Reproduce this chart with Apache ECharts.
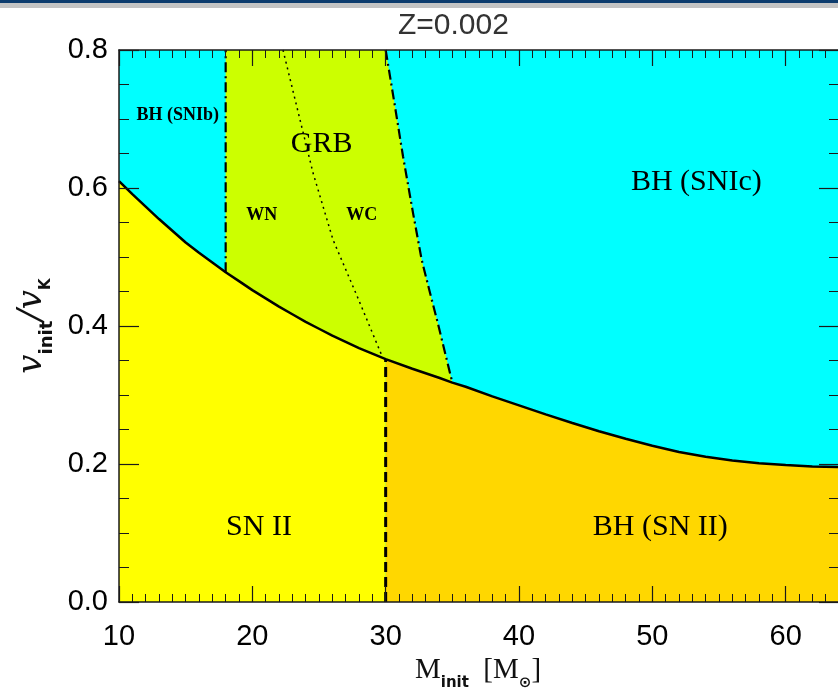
<!DOCTYPE html>
<html>
<head>
<meta charset="utf-8">
<title>Z=0.002</title>
<script src="https://cdn.jsdelivr.net/npm/echarts@6/dist/echarts.min.js"></script>
<style>
  html, body { margin: 0; padding: 0; background: #fff; }
  #chart { width: 838px; height: 692px; }
</style>
</head>
<body>
<div id="chart"></div>
<script>
// solid curve: lower limit of the BH formation region
const curveM = [10, 11, 12, 13, 14, 15, 16, 17, 18, 19, 20, 21, 22, 23, 24, 25, 26, 27, 28, 29, 30,
                32, 34, 35, 36, 38, 40, 42, 44, 46, 48, 50, 52, 54, 56, 58, 60, 62, 64]
const curveV = [0.610, 0.591, 0.573, 0.555, 0.538, 0.521, 0.506, 0.492, 0.478, 0.465, 0.452, 0.440, 0.428,
                0.417, 0.406, 0.396, 0.386, 0.377, 0.368, 0.360, 0.352,
                0.338, 0.325, 0.318, 0.312, 0.298, 0.285, 0.272, 0.2595, 0.2475, 0.2365, 0.2265, 0.2175,
                0.2105, 0.205, 0.201, 0.1985, 0.1965, 0.1955]

// dash-dot edge between GRB and BH (SNIc)
const grbEdgeM = [30.0, 30.7, 31.3, 32.05, 32.7, 33.3, 33.9, 35]
const grbEdgeV = [0.8, 0.718, 0.646, 0.564, 0.496, 0.45, 0.405, 0.318]

// dotted WN / WC edge
const wnwcM = [22.3, 23.7, 24.55, 26.05, 27.93, 29.8]
const wnwcV = [0.8, 0.689, 0.622, 0.525, 0.44, 0.353]

const snibLimit = 18   // dash-dot vertical
const bhLimit = 30     // dashed vertical

const labelNames = ['BH (SNIb)', 'GRB', 'WN', 'WC', 'BH (SNIc)', 'SN II', 'BH (SN II)']
const labelM = [14.4, 25.2, 20.7, 28.2, 53.3, 20.5, 50.6]
const labelV = [0.706, 0.663, 0.560, 0.560, 0.608, 0.109, 0.109]

const xTickLabels = [10, 20, 30, 40, 50, 60]
const yTickLabels = [0.0, 0.2, 0.4, 0.6, 0.8]

const smallLabels = new Set(['BH (SNIb)', 'WN', 'WC'])
const ink = '#1a1a1a'

const zip = (a, b) => a.map((v, i) => [v, b[i]])
const curvePts = zip(curveM, curveV)
const curveAt = m => curveV[curveM.indexOf(m)]

const yellowPoly = [[curveM[0], 0], ...curvePts.filter(p => p[0] <= bhLimit), [bhLimit, 0]]
const goldPoly = [[bhLimit, 0], ...curvePts.filter(p => p[0] >= bhLimit), [curveM[curveM.length - 1], 0]]
const grbPoly = [
  [snibLimit, 0.8],
  ...zip(grbEdgeM, grbEdgeV),
  ...curvePts.filter(p => p[0] >= snibLimit && p[0] <= grbEdgeM[grbEdgeM.length - 1]).reverse()
]

const region = (pts, color) => ({
  type: 'custom',
  silent: true,
  z: 1,
  data: pts,
  encode: { x: 0, y: 1 },
  renderItem: (params, api) => {
    if (params.dataIndex !== 0) return null
    return { type: 'polygon', shape: { points: pts.map(p => api.coord(p)) }, style: { fill: color } }
  }
})

const line = (pts, width, type) => ({
  type: 'line',
  silent: true,
  z: 3,
  symbol: 'none',
  data: pts,
  lineStyle: { color: '#000', width: width, type: type }
})

const xBase = {
  type: 'value',
  min: 10,
  max: 70,
  interval: 10,
  z: 10,
  axisLine: { show: true, onZero: false, lineStyle: { color: ink, width: 1.5 } },
  axisTick: { show: true, inside: true, length: 16, lineStyle: { color: ink, width: 1.2 } },
  minorTick: { show: true, splitNumber: 10, length: 8, lineStyle: { color: ink, width: 1 } },
  splitLine: { show: false }
}
const yBase = {
  type: 'value',
  min: 0,
  max: 0.8,
  interval: 0.2,
  z: 10,
  axisLine: { show: true, onZero: false, lineStyle: { color: ink, width: 1.5 } },
  axisTick: { show: true, inside: true, length: 20, lineStyle: { color: ink, width: 1.2 } },
  minorTick: { show: true, splitNumber: 4, length: 10, lineStyle: { color: ink, width: 1 } },
  splitLine: { show: false }
}

const chart = echarts.init(document.getElementById('chart'))

chart.setOption({
  animation: false,
  backgroundColor: '#fff',
  graphic: [
    { type: 'rect', shape: { x: 0, y: 0, width: 838, height: 3 }, style: { fill: '#0d3c6e' } },
    { type: 'rect', shape: { x: 0, y: 3, width: 838, height: 5 }, style: { fill: '#c4c4c4' } }
  ],
  title: {
    text: 'Z=0.002',
    left: 393,
    top: 6,
    textStyle: { fontFamily: 'Liberation Sans', fontSize: 30, fontWeight: 'normal', color: '#333' }
  },
  grid: {
    left: 119,
    width: 800,
    top: 50,
    bottom: 90,
    containLabel: false,
    outerBoundsMode: 'none',
    show: true,
    backgroundColor: '#00ffff',
    borderWidth: 0
  },
  xAxis: [
    {
      ...xBase,
      position: 'bottom',
      axisLabel: {
        margin: 20, color: '#000', fontSize: 29, fontFamily: 'Liberation Sans',
        formatter: v => xTickLabels.includes(v) ? String(v) : ''
      },
      name: '{m|M}{s|init}{m|  [M}{s|⊙}{m|]}',
      nameLocation: 'middle',
      nameGap: 50,
      nameTextStyle: {
        padding: [0, 82, 0, 0],
        rich: {
          m: { fontFamily: 'Liberation Serif', fontSize: 29, color: '#111', lineHeight: 30, verticalAlign: 'top' },
          s: { fontFamily: 'DejaVu Sans', fontSize: 15, fontWeight: 'bold', color: '#111', lineHeight: 16,
               padding: [20, 0, 0, 0], verticalAlign: 'top' }
        }
      }
    },
    { ...xBase, position: 'top', axisLabel: { show: false } }
  ],
  yAxis: [
    {
      ...yBase,
      position: 'left',
      axisLabel: {
        margin: 11, color: '#000', fontSize: 29, fontFamily: 'Liberation Sans',
        formatter: v => yTickLabels.some(t => Math.abs(t - v) < 1e-6) ? v.toFixed(1) : ''
      },
      name: '{v|v}{s|init}{v|/v}{k|K}',
      nameLocation: 'middle',
      nameGap: 68,
      nameTextStyle: {
        rich: {
          v: { fontFamily: 'DejaVu Serif', fontStyle: 'italic', fontSize: 34, color: '#111', lineHeight: 36, verticalAlign: 'top' },
          s: { fontFamily: 'DejaVu Sans', fontSize: 18, fontWeight: 'bold', color: '#111', lineHeight: 19,
               padding: [23, 0, 0, 0], verticalAlign: 'top' },
          k: { fontFamily: 'DejaVu Sans', fontSize: 15, fontWeight: 'bold', color: '#111', lineHeight: 16,
               padding: [24, 0, 0, 0], verticalAlign: 'top' }
        }
      }
    },
    { ...yBase, position: 'right', offset: -80, axisLabel: { show: false } }
  ],
  series: [
    region(yellowPoly, '#ffff00'),
    region(goldPoly, '#ffd700'),
    region(grbPoly, '#ccff00'),
    line(curvePts, 2.5, 'solid'),
    line([[snibLimit, curveAt(snibLimit)], [snibLimit, 0.8]], 2.2, [10, 4, 2, 4]),
    line(zip(grbEdgeM, grbEdgeV), 2.2, [10, 4, 2, 4]),
    line(zip(wnwcM, wnwcV), 1.5, [2, 4]),
    line([[bhLimit, 0], [bhLimit, curveAt(bhLimit)]], 3, [10, 5]),
    {
      type: 'scatter',
      silent: true,
      z: 5,
      symbolSize: 1,
      itemStyle: { color: 'rgba(0,0,0,0)' },
      data: labelNames.map((n, i) => ({
        name: n,
        value: [labelM[i], labelV[i]],
        label: smallLabels.has(n)
          ? { fontFamily: 'Liberation Serif', fontWeight: 'bold', fontSize: 18 }
          : { fontFamily: 'Liberation Serif', fontSize: 30 }
      })),
      label: {
        show: true, position: 'inside', color: '#000',
        textBorderWidth: 0, opacity: 1, formatter: p => p.name
      }
    }
  ]
})
</script>
</body>
</html>
